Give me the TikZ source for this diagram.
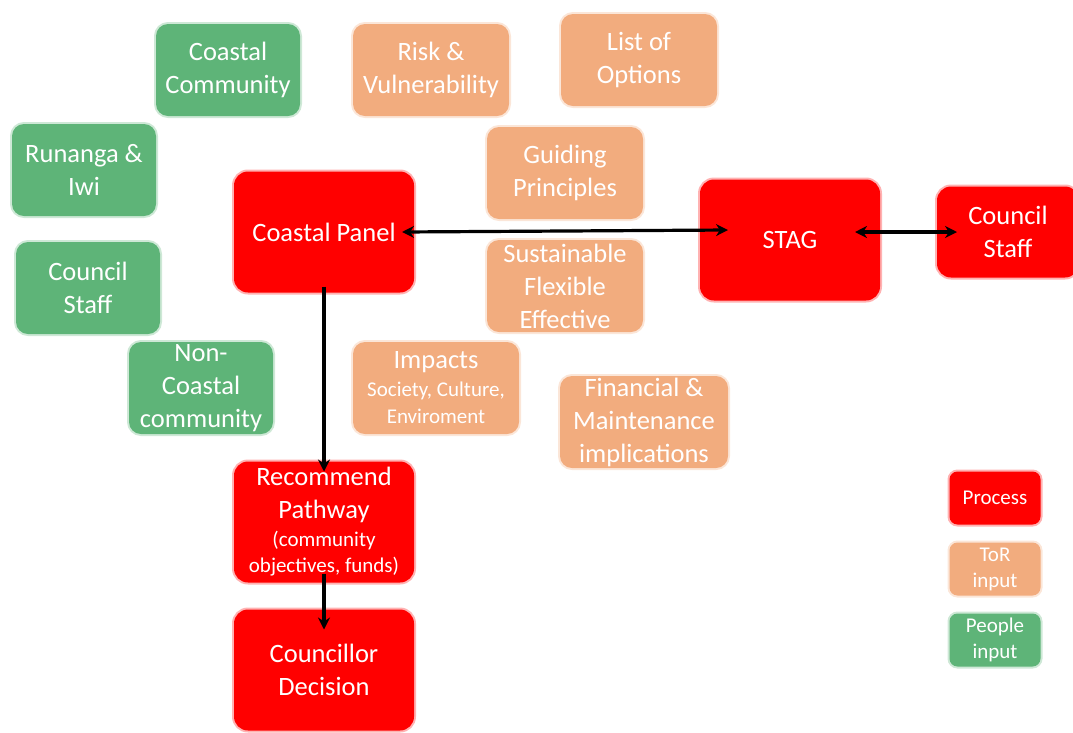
\documentclass[tikz,border=0pt]{standalone}
\usepackage{fontspec}
\setmainfont{Carlito}
\usepackage{tikz}
\usetikzlibrary{positioning, arrows.meta}
\usepackage{xcolor}

\definecolor{procred}{RGB}{255,0,0}
\definecolor{torpeach}{RGB}{242,172,126}
\definecolor{peoplegreen}{RGB}{94,180,120}

\newcommand{\bigtxt}{\fontsize{26.5}{33}\selectfont}
\newcommand{\smalltxt}{\fontsize{21}{26}\selectfont}

\tikzset{
    box/.style={text=white, align=center, inner sep=0pt, font=\bigtxt,
        draw opacity=0.3, line width=4pt},
    process/.style={box, fill=procred, draw=procred, rounded corners=14pt,
        minimum width=180pt, minimum height=121pt},
    torbox/.style={box, fill=torpeach, draw=torpeach, rounded corners=12pt,
        minimum width=156pt, minimum height=92pt},
    peoplebox/.style={box, fill=peoplegreen, draw=peoplegreen, rounded corners=12pt,
        minimum width=144pt, minimum height=92pt},
    legendbox/.style={box, font=\smalltxt, rounded corners=8pt,
        minimum width=91pt, minimum height=53pt},
    flow/.style={line width=3.2pt, black, -{Stealth[length=12pt, width=12pt]}},
    twoway/.style={flow, {Stealth[length=12pt, width=12pt]}-{Stealth[length=12pt, width=12pt]}}
}

\begin{document}
\begin{tikzpicture}[x=1pt, y=-1pt]
    \useasboundingbox (0,0) rectangle (1073,732);

    % People input
    \node[peoplebox] (coastcomm) at (228,70) {Coastal\\Community};
    \node[peoplebox] (runanga) at (84,170) {Runanga \&\\Iwi};
    \node[peoplebox] (staffppl) at (88,288) {Council\\Staff};
    \node[peoplebox] (noncoast) at (201,388) {Non-\\Coastal\\community};

    % ToR input
    \node[torbox] (risk) at (431,70) {Risk \&\\Vulnerability};
    \node[torbox] (options) at (639,60) {List of\\Options};
    \node[torbox] (guiding) at (565,173) {Guiding\\Principles};
    \node[torbox] (sustain) at (565,286) {Sustainable\\Flexible\\Effective};
    \node[torbox, minimum width=166pt] (impacts) at (436,388)
        {Impacts\\[-5pt]{\smalltxt Society, Culture,}\\[-6pt]{\smalltxt Enviroment}};
    \node[torbox, minimum width=168pt] (finance) at (644,422)
        {Financial \&\\Maintenance\\implications};

    % Process
    \node[process] (panel) at (324,232) {Coastal Panel};
    \node[process] (stag) at (790,240) {STAG};
    \node[process, minimum width=142pt, minimum height=91pt] (staff) at (1008,232) {Council\\Staff};
    \node[process] (pathway) at (324,522)
        {Recommend\\Pathway\\[-5pt]{\smalltxt (community}\\[-7pt]{\smalltxt objectives, funds)}};
    \node[process] (decision) at (324,670) {Councillor\\Decision};

    % Connectors
    \draw[twoway] ([xshift=-14pt]panel.east) -- ([xshift=30pt, yshift=10pt]stag.west);
    \draw[twoway] ([xshift=-27pt, yshift=8pt]stag.east) -- ([xshift=22pt]staff.west);
    \draw[flow] ([yshift=8pt]panel.south) -- ([yshift=-12pt]pathway.north);
    \draw[flow] ([yshift=11pt]pathway.south) -- ([yshift=-22pt]decision.north);

    % Legend
    \node[legendbox, fill=procred, draw=procred] (lgproc) at (995,498) {Process};
    \node[legendbox, fill=torpeach, draw=torpeach] (lgtor) at (995,569) {ToR\\input};
    \node[legendbox, fill=peoplegreen, draw=peoplegreen] (lgppl) at (995,640) {People\\input};
\end{tikzpicture}
\end{document}
